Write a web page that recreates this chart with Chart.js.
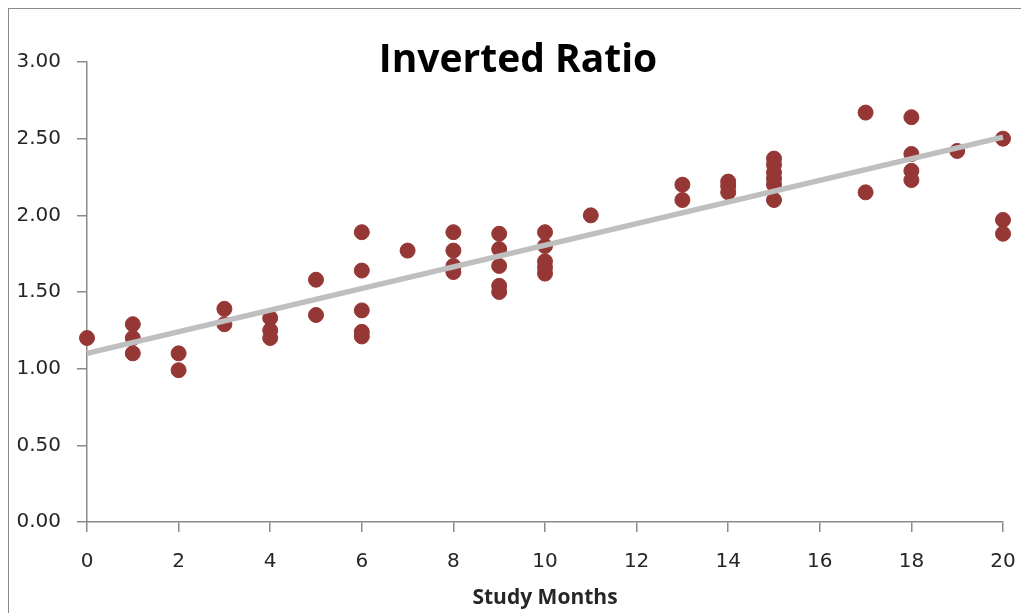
<!DOCTYPE html>
<html>
<head>
<meta charset="utf-8">
<script src="https://cdn.jsdelivr.net/npm/chart.js@4.4.1/dist/chart.umd.min.js"></script>
<style>
  html, body { margin: 0; padding: 0; background: #ffffff; }
  #wrap { position: relative; width: 1021px; height: 613px; overflow: hidden; }
  #frame { position: absolute; left: 8px; top: 8px; width: 1100px; height: 700px;
           border-left: 1.5px solid #8a8a8a; border-top: 1.5px solid #8a8a8a; }
  canvas { position: absolute; left: 0; top: 0; }
</style>
</head>
<body>
<div id="wrap">
  <div id="frame"></div>
  <canvas id="c" width="1021" height="613"></canvas>
</div>
<script>
// Study months (x) and ratio values (y)
const months = [
  0,
  1, 1, 1,
  2, 2,
  3, 3,
  4, 4, 4,
  5, 5,
  6, 6, 6, 6, 6,
  7,
  8, 8, 8, 8,
  9, 9, 9, 9, 9,
  10, 10, 10, 10, 10,
  11,
  13, 13,
  14, 14, 14,
  15, 15, 15, 15, 15, 15,
  17, 17,
  18, 18, 18, 18,
  19,
  20, 20, 20
];
const ratios = [
  1.20,
  1.29, 1.20, 1.10,
  1.10, 0.99,
  1.39, 1.29,
  1.33, 1.25, 1.20,
  1.58, 1.35,
  1.89, 1.64, 1.38, 1.24, 1.21,
  1.77,
  1.89, 1.77, 1.67, 1.63,
  1.88, 1.78, 1.67, 1.54, 1.50,
  1.89, 1.80, 1.70, 1.66, 1.62,
  2.00,
  2.20, 2.10,
  2.22, 2.19, 2.15,
  2.37, 2.33, 2.28, 2.24, 2.20, 2.10,
  2.67, 2.15,
  2.64, 2.40, 2.29, 2.23,
  2.42,
  2.50, 1.97, 1.88
];
// Linear trend line end points
const trendX = [0, 20];
const trendY = [1.10, 2.51];

const titleText = 'Inverted Ratio';
const xTitle = 'Study Months';

const pts = months.map((m, i) => ({ x: m, y: ratios[i] }));
const trend = trendX.map((m, i) => ({ x: m, y: trendY[i] }));

const titlePlugin = {
  id: 'overlayTitle',
  afterDraw(chart) {
    const ctx = chart.ctx;
    ctx.save();
    ctx.font = 'bold 39px "Open Sans", sans-serif';
    ctx.fillStyle = '#000000';
    ctx.textAlign = 'center';
    ctx.textBaseline = 'alphabetic';
    ctx.fillText(titleText, 518, 72);
    ctx.restore();
  }
};

new Chart(document.getElementById('c'), {
  type: 'scatter',
  data: {
    datasets: [
      {
        label: 'Trend',
        type: 'line',
        data: trend,
        borderColor: '#bfbfbf',
        borderWidth: 5.5,
        pointRadius: 0,
        fill: false,
        order: 0,
        clip: false
      },
      {
        label: 'Inverted Ratio',
        data: pts,
        backgroundColor: '#953735',
        borderColor: '#953735',
        borderWidth: 1,
        pointRadius: 7.5,
        pointHoverRadius: 7.5,
        order: 1,
        clip: false
      }
    ]
  },
  options: {
    responsive: false,
    animation: false,
    devicePixelRatio: 1,
    layout: { padding: { left: 0, right: 18, top: 62, bottom: 0 } },
    plugins: {
      legend: { display: false },
      title: { display: false },
      tooltip: { enabled: false }
    },
    scales: {
      x: {
        type: 'linear',
        min: 0,
        max: 20,
        afterFit(s) { s.height = 91; s.paddingLeft = 0; s.paddingRight = 0; },
        ticks: {
          stepSize: 2,
          padding: 18,
          color: '#262626',
          font: { family: '"DejaVu Sans", sans-serif', size: 20 }
        },
        grid: { drawOnChartArea: false, drawTicks: true, tickLength: 10, color: '#8a8a8a', lineWidth: 1.5 },
        border: { display: true, color: '#8a8a8a', width: 1.5 },
        title: {
          display: true,
          text: xTitle,
          color: '#262626',
          font: { family: '"Open Sans", sans-serif', size: 21, weight: 'bold' },
          padding: { top: 0, bottom: 2 }
        }
      },
      y: {
        type: 'linear',
        min: 0,
        max: 3,
        afterFit(s) { s.width = 87; s.paddingTop = 0; s.paddingBottom = 0; },
        ticks: {
          stepSize: 0.5,
          padding: 16,
          color: '#262626',
          font: { family: '"DejaVu Sans", sans-serif', size: 20 },
          callback: v => Number(v).toFixed(2)
        },
        grid: { drawOnChartArea: false, drawTicks: true, tickLength: 10, color: '#8a8a8a', lineWidth: 1.5 },
        border: { display: true, color: '#8a8a8a', width: 1.5 }
      }
    }
  },
  plugins: [titlePlugin]
});
</script>
</body>
</html>
